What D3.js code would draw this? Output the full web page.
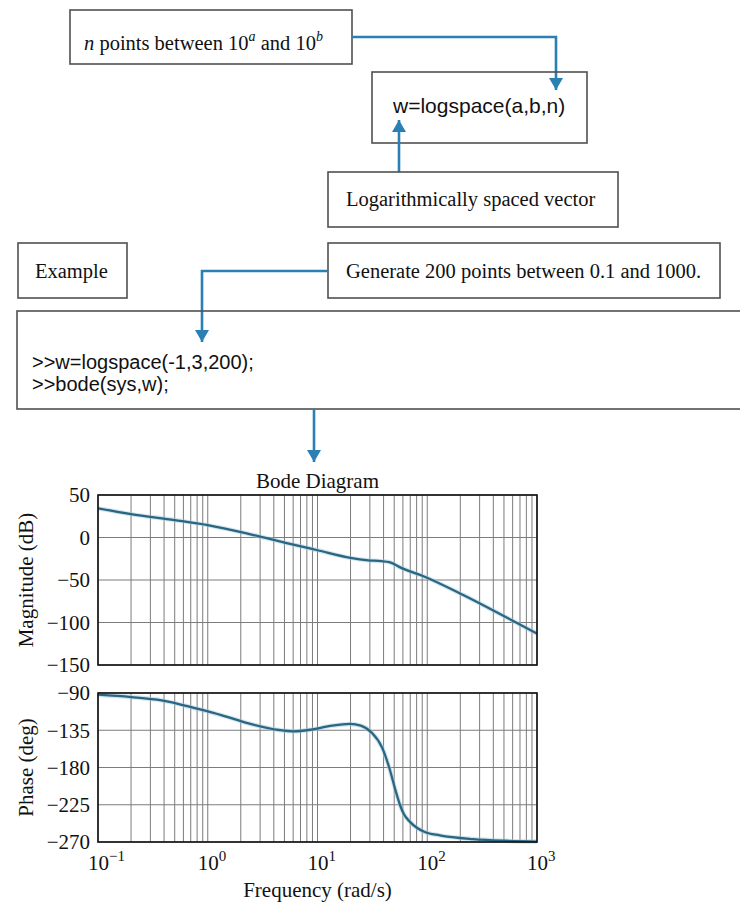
<!DOCTYPE html>
<html>
<head>
<meta charset="utf-8">
<script src="https://cdn.jsdelivr.net/npm/d3@7/dist/d3.min.js"></script>
<style>
  html, body { margin: 0; padding: 0; background: #ffffff; }
  svg { display: block; }
</style>
</head>
<body>
<svg id="chart" width="740" height="904"></svg>
<script>
// ---------------- data ----------------
const freqMag  = [0.1, 0.2, 0.5, 1, 2.5, 5, 10, 20, 29, 38, 45, 60, 90, 215, 460, 1000];
const magDb    = [34.3, 27.5, 20.5, 14.6, 3.5, -5.9, -15, -24, -26.8, -27.8, -29, -36.6, -45, -68, -90, -113];

const freqPhase = [0.1, 0.2, 0.38, 0.8, 1.35, 2.45, 4.45, 6, 8.7, 13.6, 19.8, 24.8, 31, 38.8, 45, 52, 56.4, 61, 70, 95, 130, 260, 500, 1000];
const phaseDeg  = [-92, -94.9, -98.9, -109, -117, -127.4, -134.7, -136.3, -134.3, -129.4, -127.4, -129.4, -137.6, -156, -180, -210, -225, -236, -246, -258, -262, -266.5, -268.5, -269.5];

const magTicks   = [50, 0, -50, -100, -150];
const phaseTicks = [-90, -135, -180, -225, -270];
const xTickExps  = [-1, 0, 1, 2, 3];

const codeLines = [">>w=logspace(-1,3,200);", ">>bode(sys,w);"];

// ---------------- setup ----------------
const svg = d3.select("#chart");
const SERIF = "'Liberation Serif', 'Times New Roman', serif";
const SANS  = "'Liberation Sans', Arial, sans-serif";
const BOX = "#505050";
const ARROW = "#2b7fb3";
const CURVE = "#2c6582";
const GRID = "#7c7c7c";

// arrowhead marker
const defs = svg.append("defs");
defs.append("marker")
  .attr("id", "ah")
  .attr("viewBox", "0 0 12 14")
  .attr("refX", 12).attr("refY", 7)
  .attr("markerWidth", 12).attr("markerHeight", 14)
  .attr("markerUnits", "userSpaceOnUse")
  .attr("orient", "auto")
  .append("path").attr("d", "M0,0 L12,7 L0,14 Z").attr("fill", ARROW);

function box(x, y, w, h) {
  svg.append("rect").attr("x", x).attr("y", y).attr("width", w).attr("height", h)
    .attr("fill", "none").attr("stroke", BOX).attr("stroke-width", 1.6);
}
function arrow(d) {
  svg.append("path").attr("d", d).attr("fill", "none")
    .attr("stroke", ARROW).attr("stroke-width", 2.6)
    .attr("marker-end", "url(#ah)");
}

// ---------------- flow diagram ----------------
box(70, 10, 282, 54);
const t1 = svg.append("text").attr("x", 84).attr("y", 50)
  .attr("font-family", SERIF).attr("font-size", 20.5).attr("fill", "#111");
t1.append("tspan").attr("font-style", "italic").text("n");
t1.append("tspan").text(" points between 10");
t1.append("tspan").attr("dy", -9).attr("font-size", 14).attr("font-style", "italic").text("a");
t1.append("tspan").attr("dy", 9).text(" and 10");
t1.append("tspan").attr("dy", -9).attr("font-size", 14).attr("font-style", "italic").text("b");

arrow("M352,37 H556 V90");

box(372, 72, 215, 71);
svg.append("text").attr("x", 393).attr("y", 113)
  .attr("font-family", SANS).attr("font-size", 21).attr("fill", "#111")
  .text("w=logspace(a,b,n)");

arrow("M399,172 V120");

box(328, 172, 290, 55);
svg.append("text").attr("x", 346).attr("y", 206)
  .attr("font-family", SERIF).attr("font-size", 20.5).attr("fill", "#111")
  .text("Logarithmically spaced vector");

box(18, 243, 109, 55);
svg.append("text").attr("x", 35).attr("y", 278)
  .attr("font-family", SERIF).attr("font-size", 20.5).attr("fill", "#111")
  .text("Example");

box(328, 243, 392, 55);
svg.append("text").attr("x", 346).attr("y", 278)
  .attr("font-family", SERIF).attr("font-size", 20.5).attr("fill", "#111")
  .text("Generate 200 points between 0.1 and 1000.");

arrow("M328,271 H202 V342");

box(17, 311, 760, 98);
svg.selectAll("text.code").data(codeLines).enter().append("text")
  .attr("class", "code")
  .attr("x", 32).attr("y", (d, i) => 369 + i * 22)
  .attr("font-family", SANS).attr("font-size", 20).attr("fill", "#111")
  .text(d => d);

arrow("M314,409 V462");

// ---------------- Bode plots ----------------
const L = 98, R = 537;
const magTop = 495, magBot = 665;
const phTop = 693, phBot = 842;

const x = d3.scaleLog().domain([0.1, 1000]).range([L, R]);
const yMag = d3.scaleLinear().domain([-150, 50]).range([magBot, magTop]);
const yPh  = d3.scaleLinear().domain([-270, -90]).range([phBot, phTop]);

svg.append("text").attr("x", (L + R) / 2).attr("y", 488)
  .attr("text-anchor", "middle").attr("font-family", SERIF).attr("font-size", 21)
  .attr("fill", "#111").text("Bode Diagram");

function panel(y, ticks, freqs, vals, title, titleY) {
  const g = svg.append("g");
  const [yb, yt] = y.range();
  // vertical grid
  g.selectAll("line.vg").data(x.ticks()).enter().append("line")
    .attr("x1", d => x(d)).attr("x2", d => x(d))
    .attr("y1", yt).attr("y2", yb)
    .attr("stroke", GRID).attr("stroke-width", 1);
  // horizontal grid
  g.selectAll("line.hg").data(ticks).enter().append("line")
    .attr("x1", L).attr("x2", R)
    .attr("y1", d => y(d)).attr("y2", d => y(d))
    .attr("stroke", GRID).attr("stroke-width", 1);
  // curve
  const line = d3.line().x((d, i) => x(freqs[i])).y(d => y(d)).curve(d3.curveMonotoneX);
  g.append("path").attr("d", line(vals)).attr("fill", "none")
    .attr("stroke", "#9fcbe0").attr("stroke-width", 4.5).attr("stroke-opacity", 0.5);
  g.append("path").attr("d", line(vals)).attr("fill", "none")
    .attr("stroke", CURVE).attr("stroke-width", 2.3);
  // frame
  g.append("rect").attr("x", L).attr("y", yt).attr("width", R - L).attr("height", yb - yt)
    .attr("fill", "none").attr("stroke", "#111").attr("stroke-width", 1.6);
  // y tick labels
  g.selectAll("text.yt").data(ticks).enter().append("text")
    .attr("x", 90).attr("y", d => y(d)).attr("dy", "0.35em")
    .attr("text-anchor", "end").attr("font-family", SERIF).attr("font-size", 21)
    .attr("fill", "#111")
    .text(d => (d < 0 ? "\u2212" : "") + Math.abs(d));
  // y title
  g.append("text").attr("transform", `translate(33,${titleY}) rotate(-90)`)
    .attr("text-anchor", "middle").attr("font-family", SERIF).attr("font-size", 21)
    .attr("fill", "#111").text(title);
}

panel(yMag, magTicks, freqMag, magDb, "Magnitude (dB)", (magTop + magBot) / 2);
panel(yPh, phaseTicks, freqPhase, phaseDeg, "Phase (deg)", (phTop + phBot) / 2);

// x tick labels
const xl = svg.selectAll("text.xt").data(xTickExps).enter().append("text")
  .attr("x", d => x(Math.pow(10, d)) - 10).attr("y", 870)
  .attr("font-family", SERIF).attr("font-size", 21).attr("fill", "#111");
xl.append("tspan").text("10");
xl.append("tspan").attr("dy", -9).attr("font-size", 15)
  .text(d => (d < 0 ? "\u2212" : "") + Math.abs(d));

svg.append("text").attr("x", (L + R) / 2).attr("y", 897)
  .attr("text-anchor", "middle").attr("font-family", SERIF).attr("font-size", 21)
  .attr("fill", "#111").text("Frequency (rad/s)");
</script>
</body>
</html>
